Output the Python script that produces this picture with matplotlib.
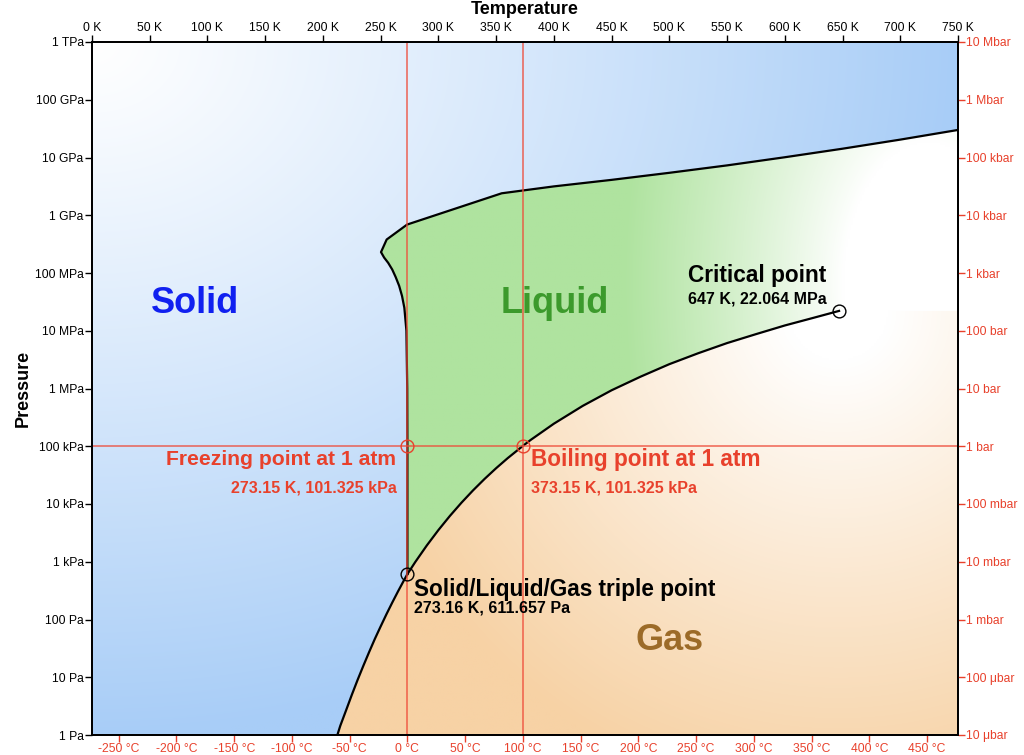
import numpy as np
import matplotlib
matplotlib.use("Agg")
import matplotlib.pyplot as plt
from matplotlib.patches import Polygon
from matplotlib.ticker import FixedLocator, NullLocator

plt.rcParams['font.family'] = ['Liberation Sans', 'DejaVu Sans']

# ---------------- data ----------------
# sublimation curve (K, Pa)
sub_T = [212.5, 215, 220, 225, 230, 235, 240, 245, 250, 255, 260, 265, 270, 273.16]
sub_P = [1.0, 1.44, 2.66, 4.95, 8.97, 15.8, 27.3, 46.3, 76.0, 123.3, 195.8, 306.0, 470.0, 611.657]

# vaporization curve (K, Pa)
vap_T = [273.16, 280, 290, 300, 310, 320, 330, 340, 350, 360, 373.15, 380, 400,
         425, 450, 475, 500, 525, 550, 575, 600, 625, 647.0]
vap_P = [611.657, 991.8, 1919.9, 3536.8, 6231.5, 10546, 17213, 27188, 41682, 62194,
         101325, 129000, 245770, 500000, 932000, 1.60e6, 2.639e6, 4.08e6, 6.117e6,
         8.73e6, 12.34e6, 16.78e6, 22.064e6]

# melting curve (K, Pa)
melt_T = [273.16, 273.15, 273.0, 272.3, 270.5, 268.5, 266.0, 263.0, 260.0, 256.5,
          253.0, 250.3, 255.2, 272.9, 354.8, 400, 450, 500, 550, 600, 650, 700, 750]
melt_P = [611.657, 101325, 1e6, 1e7, 2.5e7, 4e7, 6e7, 8.5e7, 1.15e8, 1.5e8,
          1.85e8, 2.3e8, 3.8e8, 6.9e8, 2.4e9, 3.16e9, 4.1e9, 5.43e9, 7.3e9, 1.01e10,
          1.42e10, 2.04e10, 3.0e10]

# special points
freeze_pt = (273.15, 101325)
boil_pt = (373.15, 101325)
triple_pt = (273.16, 611.657)
crit_pt = (647.0, 22.064e6)

# axis ticks
k_ticks = list(range(0, 751, 50))
k_labels = [f"{k} K" for k in k_ticks]
c_ticks = list(range(-250, 451, 50))
c_labels = [f"{c} °C" for c in c_ticks]
pa_ticks = [10.0 ** e for e in range(0, 13)]
pa_labels = ['1 Pa', '10 Pa', '100 Pa', '1 kPa', '10 kPa', '100 kPa', '1 MPa',
             '10 MPa', '100 MPa', '1 GPa', '10 GPa', '100 GPa', '1 TPa']
bar_ticks = [10.0 ** e for e in range(-5, 8)]
bar_labels = ['10 μbar', '100 μbar', '1 mbar', '10 mbar', '100 mbar', '1 bar',
              '10 bar', '100 bar', '1 kbar', '10 kbar', '100 kbar', '1 Mbar', '10 Mbar']

# ---------------- figure ----------------
W, H = 1024, 755
fig = plt.figure(figsize=(W / 100, H / 100), dpi=100)
L, R, T, B = 92, 958, 42, 735
ax = fig.add_axes([L / W, 1 - B / H, (R - L) / W, (B - T) / H])
ax.set_yscale('log')
ax.set_xlim(0, 750)
ax.set_ylim(1, 1e12)
ax.set_autoscale_on(False)

# twin axes first (twiny/twinx reset tick sides of the parent)
axc = ax.twiny()
axb = ax.twinx()

RED = '#e8412c'
xmin, xmax = 0, 750
ymin, ymax = 1, 1e12

# polygons
solid_xy = ([(xmin, ymin)] + list(zip(sub_T, sub_P)) + list(zip(melt_T[1:], melt_P[1:]))
            + [(xmax, ymax), (xmin, ymax)])
liquid_xy = (list(zip(melt_T, melt_P)) + [(xmax, crit_pt[1])]
             + list(zip(vap_T[::-1], vap_P[::-1])))
gas_xy = (list(zip(sub_T, sub_P)) + list(zip(vap_T[1:], vap_P[1:]))
          + [(xmax, crit_pt[1]), (xmax, ymin)])

# gradient grids in axes fraction
nx, ny = 500, 400
u = np.linspace(0, 1, nx)
v = np.linspace(0, 1, ny)
U, V = np.meshgrid(u, v)
pw, ph = (R - L), (B - T)
cu = crit_pt[0] / xmax
cv = np.log10(crit_pt[1]) / 12.0
dcp = np.sqrt(((U - cu) * pw) ** 2 + ((V - cv) * ph) ** 2)
# elliptical fade for the liquid, centred right of the critical point
lu, lv = cu + 90 / pw, cv + 28 / ph
dl = np.sqrt(((U - lu) * pw) ** 2 + (0.6 * (V - lv) * ph) ** 2)


def blend(c0, c1, t):
    c0 = np.array(matplotlib.colors.to_rgb(c0))
    c1 = np.array(matplotlib.colors.to_rgb(c1))
    t = np.clip(t, 0, 1)[..., None]
    return c0 * (1 - t) + c1 * t


def add_grad(img, xy):
    poly = Polygon(xy, closed=True, transform=ax.transData, facecolor='none', edgecolor='none')
    ax.add_patch(poly)
    im = ax.imshow(img, extent=(0, 1, 0, 1), transform=ax.transAxes, origin='lower',
                   interpolation='bilinear', aspect='auto', zorder=0)
    im.set_clip_path(poly)


solid_t = np.sqrt(U ** 2 + (1 - V) ** 2)
add_grad(blend('#ffffff', '#a8cdf7', solid_t ** 1.1), solid_xy)
liquid_t = (dl - 85) / 220.0
add_grad(blend('#ffffff', '#afe39f', np.clip(liquid_t, 0, 1) ** 0.9), liquid_xy)
gas_t = (dcp - 50) / 440.0
add_grad(blend('#ffffff', '#f7d2a5', np.clip(gas_t, 0, 1) ** 0.95), gas_xy)

ax.set_xlim(0, 750)
ax.set_ylim(1, 1e12)

# curves
ax.plot(sub_T, sub_P, color='black', lw=1.6, zorder=3)
ax.plot(vap_T, vap_P, color='black', lw=1.6, zorder=3)
ax.plot(melt_T, melt_P, color='black', lw=1.6, zorder=3)

# red reference lines
ax.axvline(freeze_pt[0], color='#ee4a38', lw=1.1, alpha=0.85, zorder=4)
ax.axvline(boil_pt[0], color='#ee4a38', lw=1.1, alpha=0.85, zorder=4)
ax.axhline(freeze_pt[1], color='#ee4a38', lw=1.1, alpha=0.85, zorder=4)

# markers
for pt, col in [(freeze_pt, RED), (boil_pt, RED), (triple_pt, 'black'), (crit_pt, 'black')]:
    ax.plot([pt[0]], [pt[1]], marker='o', ms=9.2, mfc='none', mec=col, mew=1.0, zorder=5)

# region labels
ax.text(89, 3e7, 'Solid', color='#1020f0', fontsize=26, fontweight='bold', ha='center', va='center', zorder=6)
ax.text(401, 3e7, 'Liquid', color='#3c9a2c', fontsize=26, fontweight='bold', ha='center', va='center', zorder=6)
ax.text(500, 44, 'Gas', color='#9c6b28', fontsize=26, fontweight='bold', ha='center', va='center', zorder=6)

big = 16.3
small = 11.5


def lab(pt, dx, dy, s, col, size, ha):
    ax.annotate(s, xy=pt, xytext=(dx, dy), textcoords='offset pixels', ha=ha, va='center',
                color=col, fontsize=size, fontweight='bold', zorder=6)


lab(freeze_pt, -11, -14, 'Freezing point at 1 atm', RED, 15.2, 'right')
lab(freeze_pt, -11, -42, '273.15 K, 101.325 kPa', RED, small, 'right')
lab(boil_pt, 8, -14, 'Boiling point at 1 atm', RED, big, 'left')
lab(boil_pt, 8, -42, '373.15 K, 101.325 kPa', RED, small, 'left')
lab(triple_pt, 7, -15, 'Solid/Liquid/Gas triple point', 'black', big, 'left')
lab(triple_pt, 7, -34, '273.16 K, 611.657 Pa', 'black', small, 'left')
lab(crit_pt, -82, 35, 'Critical point', 'black', big, 'center')
lab(crit_pt, -82, 12, '647 K, 22.064 MPa', 'black', small, 'center')

TS = 8.7
# top (K) and left (Pa) on the main axes
ax.xaxis.tick_top()
ax.xaxis.set_major_locator(FixedLocator(k_ticks))
ax.set_xticklabels(k_labels)
ax.yaxis.tick_left()
ax.yaxis.set_major_locator(FixedLocator(pa_ticks))
ax.yaxis.set_minor_locator(NullLocator())
ax.set_yticklabels(pa_labels)
ax.tick_params(axis='both', direction='out', length=5, width=1, labelsize=TS, pad=1, colors='black')
ax.set_ylabel('Pressure', fontsize=13, fontweight='bold', labelpad=2)
fig.text((L + R) / 2 / W, 1 - 9 / H, 'Temperature', fontsize=13, fontweight='bold',
         ha='center', va='center')

# bottom (°C)
axc.set_xlim(xmin - 273.15, xmax - 273.15)
axc.xaxis.tick_bottom()
axc.xaxis.set_major_locator(FixedLocator(c_ticks))
axc.set_xticklabels(c_labels)
axc.tick_params(axis='x', direction='out', length=5, width=1, labelsize=TS, pad=1, colors=RED)

# right (bar)
axb.set_yscale('log')
axb.set_ylim(ymin / 1e5, ymax / 1e5)
axb.yaxis.tick_right()
axb.yaxis.set_major_locator(FixedLocator(bar_ticks))
axb.yaxis.set_minor_locator(NullLocator())
axb.set_yticklabels(bar_labels)
axb.tick_params(axis='y', direction='out', length=5, width=1, labelsize=TS, pad=1, colors=RED)

for a in (ax, axc, axb):
    for s in a.spines.values():
        s.set_color('black')
        s.set_linewidth(1.2)
        s.set_zorder(10)

fig.savefig('out.png', dpi=100)
